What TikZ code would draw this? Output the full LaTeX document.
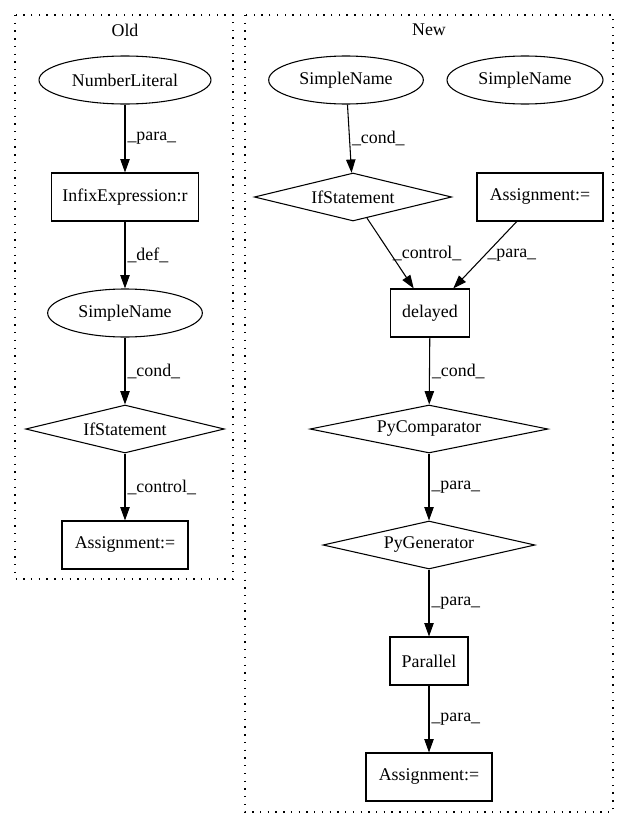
\documentclass[tikz,border=0pt]{standalone}
\usepackage{fontspec}
\setmainfont{Liberation Serif}
\usetikzlibrary{shapes.geometric,arrows.meta}

\begin{document}
\begin{tikzpicture}[x=0.75pt,y=-0.75pt,
		every node/.style={font=\fontsize{13.4}{16}\selectfont,line width=0.8pt},
		ell/.style={draw,ellipse,inner sep=0pt,minimum height=36pt},
		box/.style={draw,rectangle,inner sep=0pt,minimum height=36pt},
		dia/.style={draw,diamond,aspect=5,inner sep=0pt,minimum height=36pt},
		lbl/.style={anchor=west,inner sep=1.5pt},
		arr/.style={-{Triangle[length=10pt,width=7pt]},line width=0.8pt},
		clus/.style={line width=0.8pt,dash pattern=on 1pt off 4.8pt}]

		\useasboundingbox (0,0) rectangle (629,828);

		% clusters
		\draw[clus] ( 15, 15) rectangle (233,579);
		\draw[clus] (245, 15) rectangle (613,812);
		\node (old) at (125, 30) {Old};
		\node (new) at (429, 30) {New};

		% old
		\node[ell,minimum width=129pt]  (o1) at (125, 80) {NumberLiteral};
		\node[box,minimum width=110pt]  (o2) at (125,197) {InfixExpression:r};
		\node[ell,minimum width=116pt]  (o3) at (125,313) {SimpleName};
		\node[dia,minimum width=149pt]  (o4) at (125,429) {IfStatement};
		\node[box,minimum width=94.5pt] (o5) at (125,545) {Assignment:=};

		% new
		\node[ell,minimum width=116pt]   (n1) at (346, 80) {SimpleName};
		\node[ell,minimum width=117pt]   (n2) at (525, 80) {SimpleName};
		\node[dia,minimum width=148pt]   (n3) at (353,197) {IfStatement};
		\node[box,minimum width=94.5pt]  (n4) at (540,197) {Assignment:=};
		\node[box,minimum width=59pt]    (n5) at (430,313) {delayed};
		\node[dia,minimum width=178.5pt] (n6) at (429,429) {PyComparator};
		\node[dia,minimum width=159pt]   (n7) at (429,545) {PyGenerator};
		\node[box,minimum width=58.5pt]  (n8) at (429,661) {Parallel};
		\node[box,minimum width=94.5pt]  (n9) at (429,777) {Assignment:=};

		\draw[arr] (o1) -- node[lbl] {\_para\_} (o2);
		\draw[arr] (o2) -- node[lbl] {\_def\_} (o3);
		\draw[arr] (o3) -- node[lbl] {\_cond\_} (o4);
		\draw[arr] (o4) -- node[lbl] {\_control\_} (o5);

		\draw[arr] (n1) -- node[lbl] {\_cond\_} (n3);
		\draw[arr] (n3) -- node[lbl] {\_control\_} (n5);
		\draw[arr] (n4) -- node[lbl] {\_para\_} (n5);
		\draw[arr] (n5) -- node[lbl] {\_cond\_} (n6);
		\draw[arr] (n6) -- node[lbl] {\_para\_} (n7);
		\draw[arr] (n7) -- node[lbl] {\_para\_} (n8);
		\draw[arr] (n8) -- node[lbl] {\_para\_} (n9);

	\end{tikzpicture}
\end{document}
